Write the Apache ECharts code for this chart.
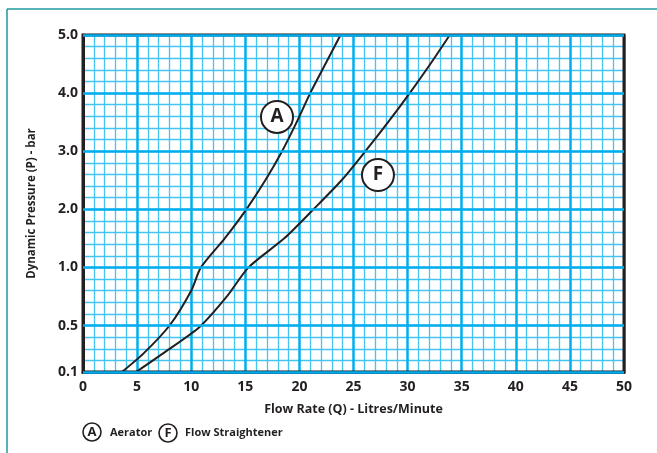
<!DOCTYPE html>
<html>
<head>
<meta charset="utf-8">
<script src="https://cdn.jsdelivr.net/npm/echarts@6/dist/echarts.min.js"></script>
<style>html,body{margin:0;padding:0;background:#fff}#c{width:657px;height:453px}</style>
</head>
<body>
<div id="c"></div>
<script>
// ---- data ----
const aeratorQ = [3.6, 5.6, 8.0, 10.0, 10.9, 13.1, 15.1, 16.85, 18.4, 19.75, 21.0, 22.4, 23.8];
const aeratorP = [0.1, 0.26, 0.5, 0.8, 1.0, 1.5, 2.0, 2.5, 3.0, 3.5, 4.0, 4.5, 5.0];
const straightQ = [4.9, 7.7, 10.8, 13.3, 15.3, 18.6, 21.3, 23.9, 26.1, 28.2, 30.2, 32.1, 33.9];
const straightP = [0.1, 0.28, 0.49, 0.75, 1.0, 1.5, 2.0, 2.5, 3.0, 3.5, 4.0, 4.5, 5.0];
const yTickValues = [0.1, 0.5, 1.0, 2.0, 3.0, 4.0, 5.0];
const yTickLabels = ['0.1', '0.5', '1.0', '2.0', '3.0', '4.0', '5.0'];
const seriesNames = ['Aerator', 'Flow Straightener'];
const seriesTags = ['A', 'F'];

// piecewise pressure scale (graph-paper units): 0.1 per unit up to 1.0, then 0.2 per unit
function toUnit(p) { return p <= 1 ? (p - 0.1) / 0.1 : 9 + (p - 1) / 0.2; }

const tickUnits = yTickValues.map(toUnit);
const labelMap = {};
tickUnits.forEach((u, i) => { labelMap[Math.round(u)] = yTickLabels[i]; });

const ink = '#231f20';
const majorBlue = '#00aeef';
const minorBlue = '#45c3f1';

const chart = echarts.init(document.getElementById('c'), null, {renderer: 'canvas'});

function curve(q, p) { return q.map((x, i) => [x, toUnit(p[i])]); }

const option = {
  animation: false,
  backgroundColor: '#fff',
  grid: {left: 83, top: 35, right: 33, bottom: 81, show: true, borderColor: ink, borderWidth: 3, backgroundColor: 'transparent', z: 5},
  xAxis: {
    type: 'value', min: 0, max: 50, interval: 5,
    name: 'Flow Rate (Q) - Litres/Minute', nameLocation: 'middle', nameGap: 31,
    nameTextStyle: {fontFamily: 'Open Sans', fontWeight: 'bold', fontSize: 12.5, color: ink},
    axisLine: {show: true, lineStyle: {color: ink, width: 3}},
    axisTick: {show: false},
    axisLabel: {fontFamily: 'Open Sans', fontWeight: 'bold', fontSize: 14, color: ink, margin: 8},
    splitLine: {show: true, lineStyle: {color: majorBlue, width: 2.5}},
    minorTick: {show: false, splitNumber: 5},
    minorSplitLine: {show: true, lineStyle: {color: minorBlue, width: 1.3}}
  },
  yAxis: {
    type: 'value', min: 0, max: 29, interval: 1,
    name: 'Dynamic Pressure (P) - bar', nameLocation: 'middle', nameGap: 45,
    nameTextStyle: {fontFamily: 'Open Sans', fontWeight: 'bold', fontSize: 11.5, color: ink},
    axisLine: {show: true, lineStyle: {color: ink, width: 3}},
    axisTick: {show: false},
    axisLabel: {
      customValues: tickUnits,
      fontFamily: 'Open Sans', fontWeight: 'bold', fontSize: 14, color: ink, margin: 5,
      formatter: v => labelMap[Math.round(v)] || ''
    },
    splitLine: {show: true, lineStyle: {color: minorBlue, width: 1.3}}
  },
  series: [
    {
      type: 'line', name: 'majorLines', data: [], silent: true, z: 1,
      markLine: {
        silent: true, symbol: 'none', label: {show: false},
        lineStyle: {color: majorBlue, width: 2.5, type: 'solid'},
        data: tickUnits.map(u => ({yAxis: u}))
      }
    },
    {
      type: 'line', name: seriesNames[0], data: curve(aeratorQ, aeratorP),
      smooth: 0.25, showSymbol: false, clip: true, z: 3,
      lineStyle: {color: ink, width: 2}
    },
    {
      type: 'line', name: seriesNames[1], data: curve(straightQ, straightP),
      smooth: 0.25, showSymbol: false, clip: true, z: 3,
      lineStyle: {color: ink, width: 2}
    },
    {
      type: 'scatter', name: 'tags', z: 6, symbol: 'circle', symbolSize: 32,
      itemStyle: {color: '#fff', borderColor: ink, borderWidth: 2, opacity: 1},
      label: {show: true, position: 'inside', formatter: p => p.data.tag,
        fontFamily: 'Open Sans', fontWeight: 'bold', fontSize: 19, color: ink},
      data: [
        {value: [17.93, toUnit(3.59)], tag: seriesTags[0]},
        {value: [27.26, toUnit(2.59)], tag: seriesTags[1]}
      ]
    }
  ],
  graphic: [
    {type: 'line', shape: {x1: 7, y1: 9, x2: 657, y2: 9}, style: {stroke: '#1f9aa1', lineWidth: 1.5}},
    {type: 'line', shape: {x1: 7, y1: 9, x2: 7, y2: 453}, style: {stroke: '#1f9aa1', lineWidth: 1.5}},
    {type: 'circle', shape: {cx: 92, cy: 432, r: 9}, style: {fill: '#fff', stroke: ink, lineWidth: 1.6}},
    {type: 'text', x: 92, y: 432, style: {text: seriesTags[0], fill: ink, font: 'bold 13px "Open Sans"', align: 'center', verticalAlign: 'middle'}},
    {type: 'text', x: 110, y: 433, style: {text: seriesNames[0], fill: ink, font: 'bold 11px "Open Sans"', align: 'left', verticalAlign: 'middle'}},
    {type: 'circle', shape: {cx: 168, cy: 433, r: 9}, style: {fill: '#fff', stroke: ink, lineWidth: 1.6}},
    {type: 'text', x: 168, y: 433, style: {text: seriesTags[1], fill: ink, font: 'bold 13px "Open Sans"', align: 'center', verticalAlign: 'middle'}},
    {type: 'text', x: 185, y: 433, style: {text: seriesNames[1], fill: ink, font: 'bold 11px "Open Sans"', align: 'left', verticalAlign: 'middle'}}
  ]
};
chart.setOption(option);
</script>
</body>
</html>
